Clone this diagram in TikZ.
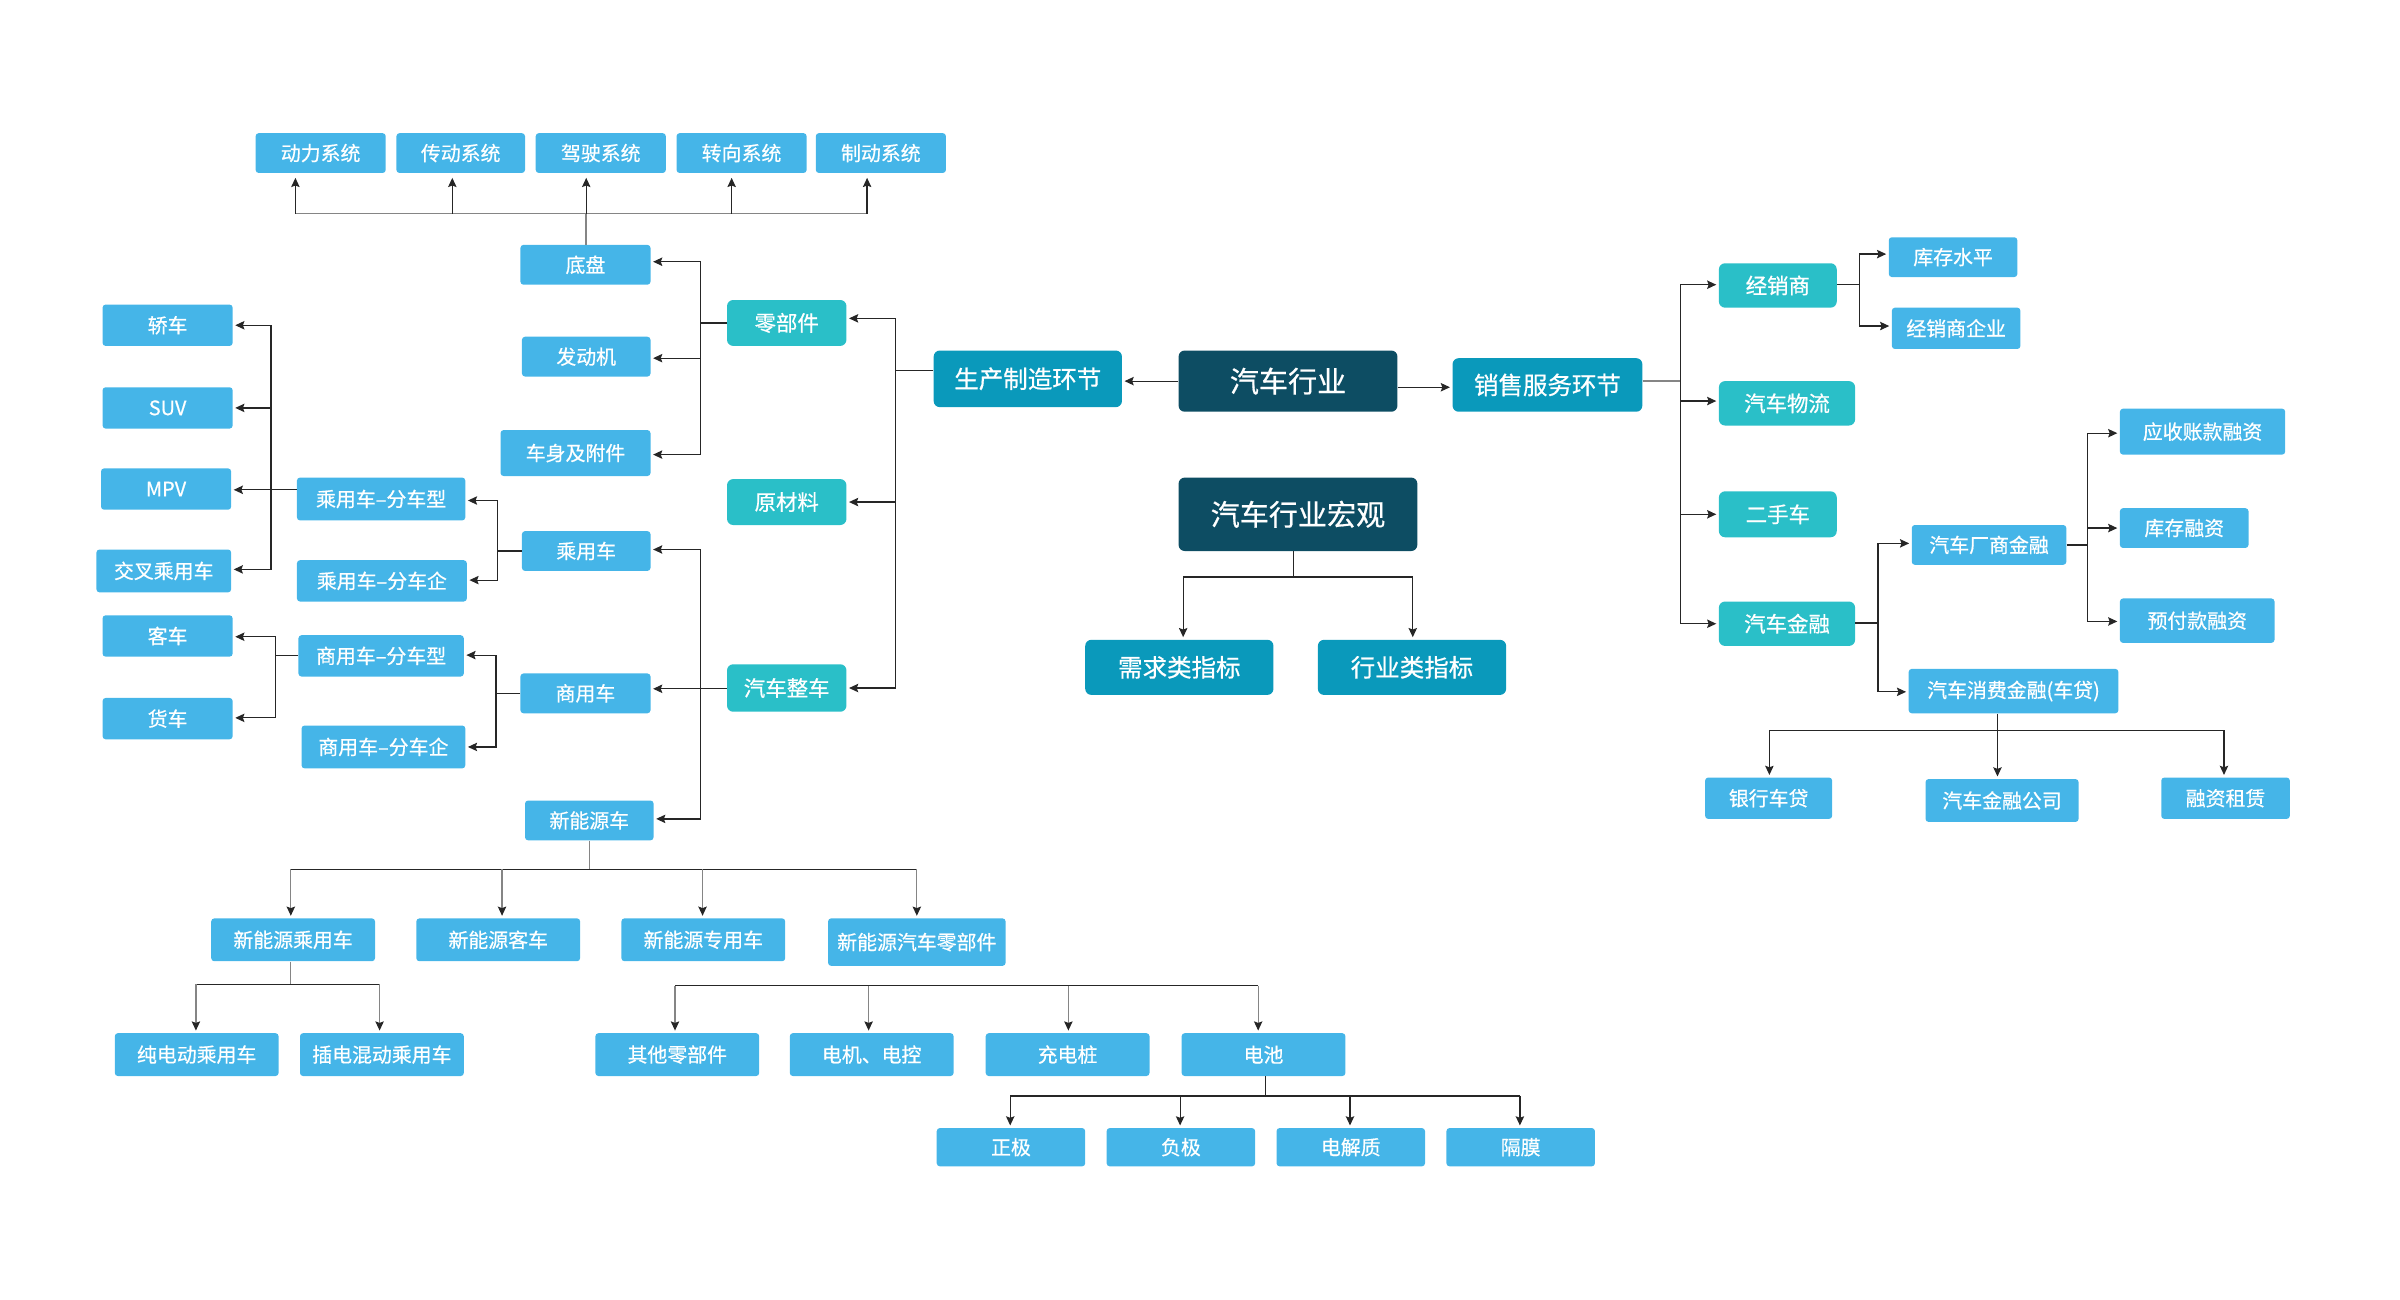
\documentclass[tikz,border=0pt]{standalone}
\usepackage{fontspec}
\setmainfont{Noto Sans CJK SC}[FakeBold=0.6,AutoFakeBold=0.6]
\usetikzlibrary{arrows.meta}
\definecolor{lblue}{HTML}{45B5E8}
\definecolor{tealc}{HTML}{2ABFC8}
\definecolor{dteal}{HTML}{0A99BB}
\definecolor{navyc}{HTML}{0D4D63}
\definecolor{lncol}{HTML}{262626}
\definecolor{lgcol}{HTML}{858585}
\tikzset{
  box/.style={rectangle, text=white, inner sep=0pt, align=center},
  lb/.style={box, fill=lblue, rounded corners=2pt, font=\fontsize{13}{13}\selectfont},
  tl/.style={box, fill=tealc, rounded corners=4pt, font=\fontsize{14}{14}\selectfont},
  dt/.style={box, fill=dteal, rounded corners=4pt, font=\fontsize{16}{16}\selectfont},
  nv/.style={box, fill=navyc, rounded corners=4pt, font=\fontsize{19}{19}\selectfont},
  wh/.style 2 args={minimum width=#1pt, minimum height=#2pt},
  ln/.style={draw=lncol, line width=0.8pt},
  lnG/.style={draw=lgcol, line width=0.8pt},
  tip/.style={-{Stealth[length=6pt,width=5.5pt,inset=1pt,color=lncol]}},
  ar/.style={ln, tip, shorten >=1.5pt},
  arG/.style={lnG, tip, shorten >=1.5pt},
  arU/.style={ln, tip, shorten >=3pt},
}
\begin{document}
\begin{tikzpicture}[x=1pt,y=-1pt]
\useasboundingbox (0,0) rectangle (1568,849);
% ---------- nodes: light blue
\node[lb,wh={85}{26}] (dl) at (209.5,100) {动力系统};
\node[lb,wh={84}{26}] (cd) at (301,100) {传动系统};
\node[lb,wh={85}{26}] (js) at (392.5,100) {驾驶系统};
\node[lb,wh={85}{26}] (zx) at (484.5,100) {转向系统};
\node[lb,wh={85}{26}] (zd) at (575.5,100) {制动系统};
\node[lb,wh={85}{26}] (dp) at (382.5,173) {底盘};
\node[lb,wh={84}{26}] (fdj) at (383,233) {发动机};
\node[lb,wh={98}{30}] (csfj) at (376,296) {车身及附件};
\node[lb,wh={85}{27}] (jc) at (109.5,212.5) {轿车};
\node[lb,wh={85}{27}] (suv) at (109.5,266.5) {SUV};
\node[lb,wh={85}{27}] (mpv) at (108.5,319.5) {MPV};
\node[lb,wh={88}{28}] (jcc) at (107,373) {交叉乘用车};
\node[lb,wh={110}{28}] (cyxx) at (249,326) {乘用车–分车型};
\node[lb,wh={111}{27}] (cyqy) at (249.5,379.5) {乘用车–分车企};
\node[lb,wh={84}{26}] (cyc) at (383,360) {乘用车};
\node[lb,wh={85}{26}] (syc) at (382.5,453) {商用车};
\node[lb,wh={84}{26}] (xny) at (385,536) {新能源车};
\node[lb,wh={108}{27}] (syxx) at (249,428.5) {商用车–分车型};
\node[lb,wh={107}{28}] (syqy) at (250.5,488) {商用车–分车企};
\node[lb,wh={85}{27}] (kc) at (109.5,415.5) {客车};
\node[lb,wh={85}{27}] (hc) at (109.5,469.5) {货车};
\node[lb,wh={107}{28}] (xcy) at (191.5,614) {新能源乘用车};
\node[lb,wh={107}{28}] (xkc) at (325.5,614) {新能源客车};
\node[lb,wh={107}{28}] (xzy) at (459.5,614) {新能源专用车};
\node[lb,wh={116}{31}] (xlbj) at (599,615.5) {新能源汽车零部件};
\node[lb,wh={107}{28}] (cdd) at (128.5,689) {纯电动乘用车};
\node[lb,wh={107}{28}] (chd) at (249.5,689) {插电混动乘用车};
\node[lb,wh={107}{28}] (qt) at (442.5,689) {其他零部件};
\node[lb,wh={107}{28}] (djdk) at (569.5,689) {电机、电控};
\node[lb,wh={107}{28}] (cdz) at (697.5,689) {充电桩};
\node[lb,wh={107}{28}] (dc) at (825.5,689) {电池};
\node[lb,wh={97}{25}] (zj) at (660.5,749.5) {正极};
\node[lb,wh={97}{25}] (fj) at (771.5,749.5) {负极};
\node[lb,wh={97}{25}] (djz) at (882.5,749.5) {电解质};
\node[lb,wh={97}{25}] (gm) at (993.5,749.5) {隔膜};
\node[lb,wh={84}{26}] (kcsp) at (1276,168) {库存水平};
\node[lb,wh={84}{27}] (jxsqy) at (1278,214.5) {经销商企业};
\node[lb,wh={101}{26}] (csjr) at (1299.5,356) {汽车厂商金融};
\node[lb,wh={137}{29}] (xfjr) at (1315.5,451.5) {汽车消费金融(车贷)};
\node[lb,wh={108}{30}] (yszk) at (1439,282) {应收账款融资};
\node[lb,wh={84}{26}] (kcrz) at (1427,345) {库存融资};
\node[lb,wh={101}{29}] (yfk) at (1435.5,405.5) {预付款融资};
\node[lb,wh={83}{27}] (yhcd) at (1155.5,521.5) {银行车贷};
\node[lb,wh={100}{28}] (qcjrgs) at (1308,523) {汽车金融公司};
\node[lb,wh={84}{27}] (rzzl) at (1454,521.5) {融资租赁};
% ---------- teal
\node[tl,wh={78}{30}] (lbj) at (514,211) {零部件};
\node[tl,wh={78}{30}] (ycl) at (514,328) {原材料};
\node[tl,wh={78}{31}] (qczc) at (514,449.5) {汽车整车};
\node[tl,wh={77}{29}] (jxs) at (1161.5,186.5) {经销商};
\node[tl,wh={89}{29}] (qcwl) at (1167.5,263.5) {汽车物流};
\node[tl,wh={77}{30}] (esc) at (1161.5,336) {二手车};
\node[tl,wh={89}{29}] (qcjr) at (1167.5,407.5) {汽车金融};
% ---------- dark teal
\node[dt,wh={123}{37}] (sczz) at (671.5,247.5) {生产制造环节};
\node[dt,wh={124}{35}] (xsfw) at (1011,251.5) {销售服务环节};
\node[dt,wh={123}{36}] (xqlzb) at (770.5,436) {需求类指标};
\node[dt,wh={123}{36}] (hylzb) at (922.5,436) {行业类指标};
% ---------- navy
\node[nv,wh={143}{40}] (qchy) at (841.5,249) {汽车行业};
\node[nv,wh={156}{48}] (hg) at (848,336) {汽车行业宏观};
% ---------- connectors: center
\draw[ar] (qchy.west) -- (sczz.east |- qchy.west);
\draw[ar] (qchy.east |- 0,253) -- (xsfw.west |- 0,253);
% production
\coordinate (p0) at (585,242);
\draw[ln] (sczz.west |- p0) -- (p0);
\draw[ar] (p0) |- (lbj.east |- 0,208);
\draw[ar] (p0) |- (ycl.east);
\draw[ar] (p0) |- (qczc.east);
% parts
\coordinate (p1) at (457.5,211);
\draw[ln] (lbj.west) -- (p1);
\draw[ar] (p1) |- (dp.east |- 0,171);
\draw[ar] (p1) |- (fdj.east |- 0,234);
\draw[ar] (p1) |- (csfj.east |- 0,297);
% chassis systems
\coordinate (p2) at (383,139.5);
\draw[lnG, line width=1.2pt] (dp.north -| p2) -- (p2);
\draw[lnG, line width=1.2pt] (p2 -| 193,0) -- (p2 -| 567,0);
\draw[arU] (p2 -| 193,0) -- (dl.south -| 193,0);
\draw[arU] (p2 -| 295.5,0) -- (cd.south -| 295.5,0);
\draw[arU] (p2) -- (js.south -| p2);
\draw[arU] (p2 -| 478,0) -- (zx.south -| 478,0);
\draw[arU] (p2 -| 566.5,0) -- (zd.south -| 566.5,0);
% whole vehicle
\coordinate (p3) at (457.5,450);
\draw[ln] (qczc.west |- p3) -- (p3);
\draw[ar] (p3) |- (cyc.east |- 0,359);
\draw[ar] (p3) -- (syc.east |- p3);
\draw[ar] (p3) |- (xny.east |- 0,535);
% passenger cars
\coordinate (p4) at (325,360);
\draw[ln] (cyc.west) -- (p4);
\draw[ar] (p4) |- (cyxx.east |- 0,327);
\draw[ar] (p4) |- (cyqy.east |- 0,379);
\coordinate (p5) at (177,320);
\draw[ln] (cyxx.west |- p5) -- (p5);
\draw[ar] (p5) |- (jc.east);
\draw[ar] (p5) |- (suv.east);
\draw[ar] (p5) -- (mpv.east |- p5);
\draw[ar] (p5) |- (jcc.east |- 0,372);
% commercial
\coordinate (p6) at (324,453);
\draw[ln] (syc.west) -- (p6);
\draw[ar] (p6) |- (syxx.east |- 0,428);
\draw[ar] (p6) |- (syqy.east);
\coordinate (p7) at (180,428);
\draw[ln] (syxx.west |- p7) -- (p7);
\draw[ar] (p7) |- (kc.east |- 0,416);
\draw[ar] (p7) |- (hc.east |- 0,469);
% new energy
\coordinate (p8) at (385,568);
\draw[lnG] (xny.south) -- (p8);
\draw[ln] (p8 -| 190,0) -- (p8 -| 599,0);
\draw[arG] (p8 -| 190,0) -- (xcy.north -| 190,0);
\draw[arG] (p8 -| 328,0) -- (xkc.north -| 328,0);
\draw[arG] (p8 -| 459,0) -- (xzy.north -| 459,0);
\draw[arG] (p8 -| 599,0) -- (xlbj.north -| 599,0);
\coordinate (p9) at (190,643);
\draw[lnG] (xcy.south -| p9) -- (p9);
\draw[ln] (p9 -| 128,0) -- (p9 -| 248,0);
\draw[arG] (p9 -| 128,0) -- (cdd.north -| 128,0);
\draw[arG] (p9 -| 248,0) -- (chd.north -| 248,0);
% NEV parts bar
\coordinate (pa) at (441,644);
\coordinate (pb) at (822,644);
\draw[ln] (pa) -- (pb);
\draw[arG] (pa) -- (qt.north -| pa);
\draw[arG] (pa -| 567.5,0) -- (djdk.north -| 567.5,0);
\draw[arG] (pa -| 698,0) -- (cdz.north -| 698,0);
\draw[arG] (pb) -- (dc.north -| pb);
% battery
\coordinate (pc) at (827,716);
\draw[ln] (dc.south -| pc) -- (pc);
\draw[ln] (pc -| 660,0) -- (pc -| 993,0);
\draw[ar] (pc -| 660,0) -- (zj.north -| 660,0);
\draw[ar] (pc -| 771,0) -- (fj.north -| 771,0);
\draw[ar] (pc -| 882,0) -- (djz.north -| 882,0);
\draw[ar] (pc -| 993,0) -- (gm.north -| 993,0);
% macro
\coordinate (pd) at (845,377);
\draw[ln] (hg.south -| pd) -- (pd);
\draw[ln] (pd -| 773,0) -- (pd -| 923,0);
\draw[ar] (pd -| 773,0) -- (xqlzb.north -| 773,0);
\draw[ar] (pd -| 923,0) -- (hylzb.north -| 923,0);
% sales
\coordinate (s0) at (1098,249);
\draw[lnG, line width=1.5pt] (xsfw.east |- s0) -- (s0);
\draw[ar] (s0) |- (jxs.west |- 0,186);
\draw[ar] (s0) |- (qcwl.west |- 0,262);
\draw[ar] (s0) |- (esc.west);
\draw[ar] (s0) |- (qcjr.west);
\coordinate (s1) at (1215,186);
\draw[ln] (jxs.east |- s1) -- (s1);
\draw[ar] (s1) |- (kcsp.west |- 0,166);
\draw[ar] (s1) |- (jxsqy.west |- 0,213);
\coordinate (s2) at (1227,407);
\draw[ln] (qcjr.east |- s2) -- (s2);
\draw[ar] (s2) |- (csjr.west |- 0,355);
\draw[ar] (s2) |- (xfjr.west |- 0,452);
\coordinate (s3) at (1364,356);
\draw[ln] (csjr.east) -- (s3);
\draw[ar] (s3) |- (yszk.west |- 0,283);
\draw[ar] (s3) |- (kcrz.west);
\draw[ar] (s3) |- (yfk.west |- 0,406);
\coordinate (s4) at (1305,477);
\draw[ln] (xfjr.south -| s4) -- (s4);
\draw[ln] (s4 -| 1156,0) -- (s4 -| 1453,0);
\draw[ar] (s4 -| 1156,0) -- (yhcd.north -| 1156,0);
\draw[ar] (s4) -- (qcjrgs.north -| s4);
\draw[ar] (s4 -| 1453,0) -- (rzzl.north -| 1453,0);
\end{tikzpicture}
\end{document}
